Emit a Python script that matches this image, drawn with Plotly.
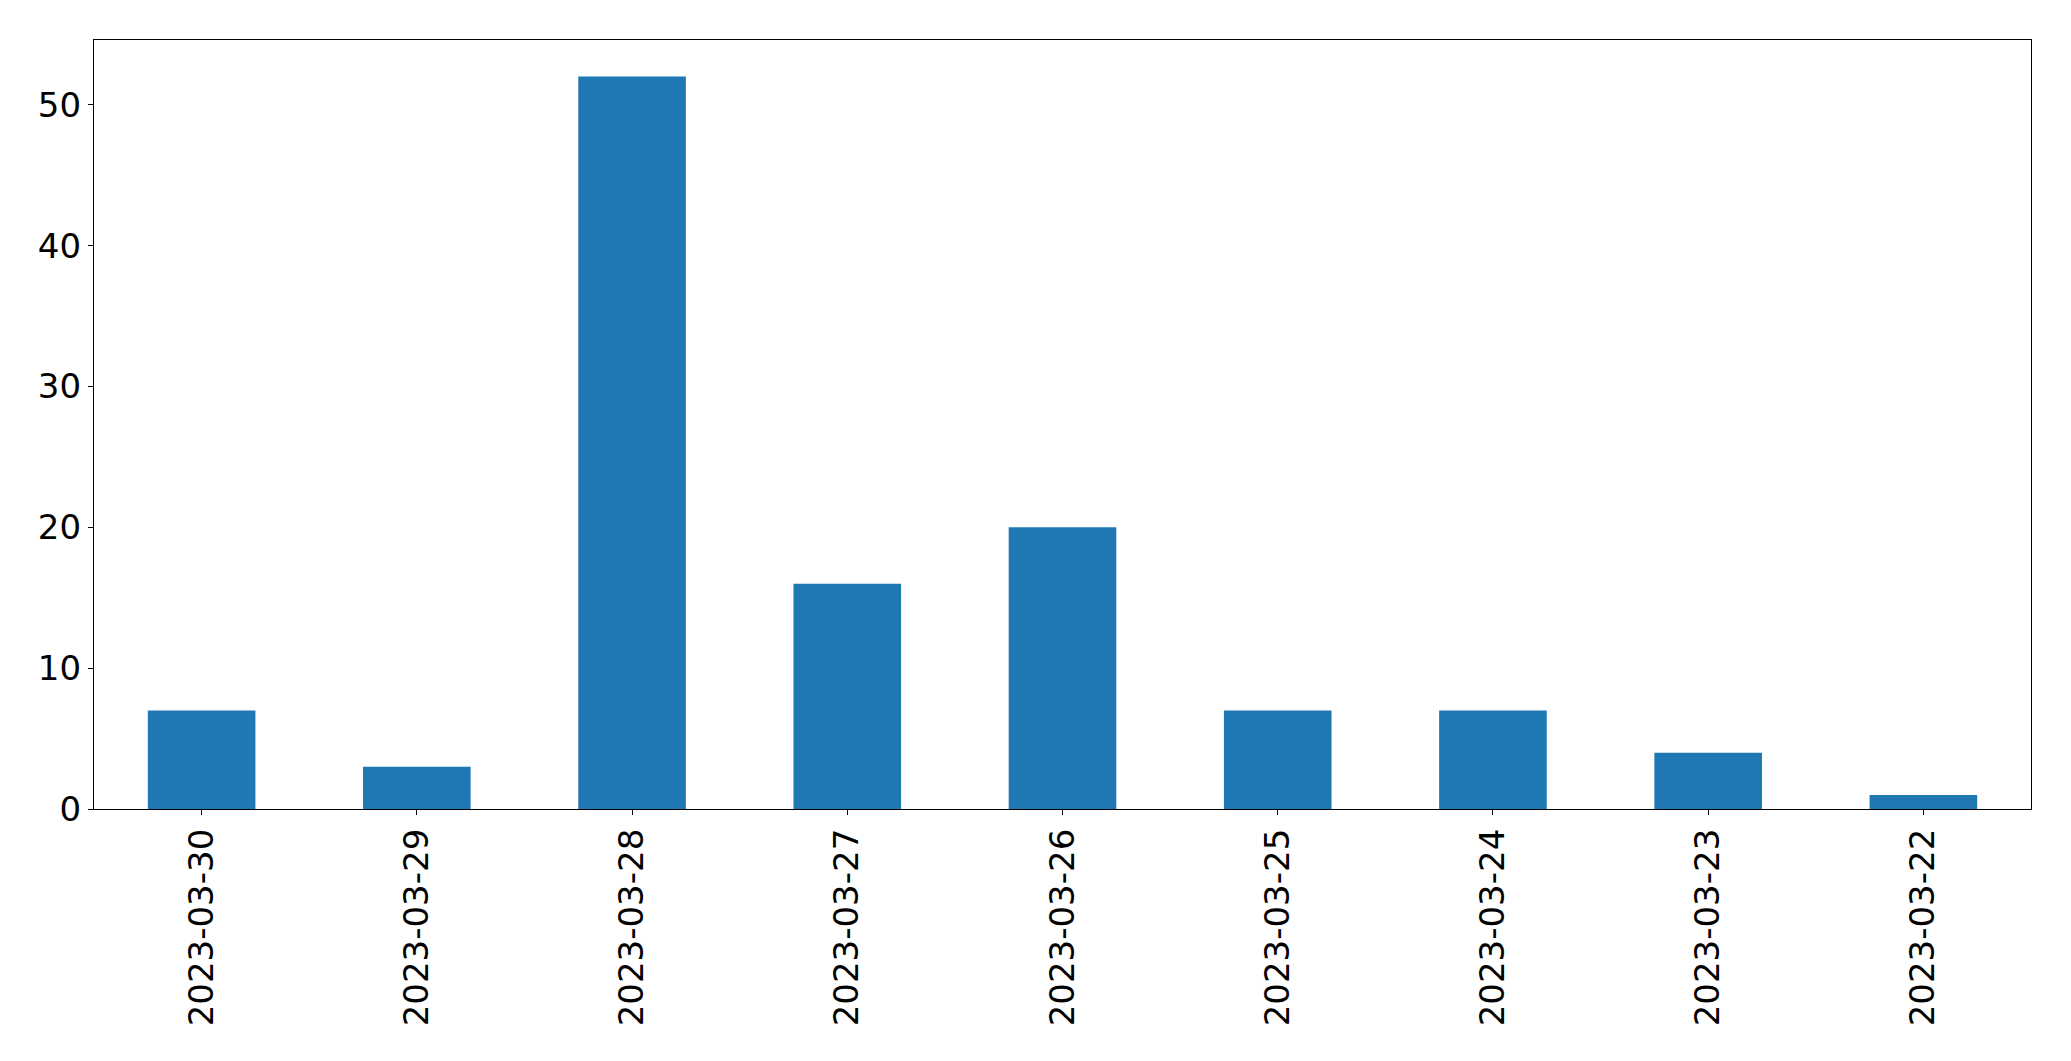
import plotly.graph_objects as go

dates = ["2023-03-30", "2023-03-29", "2023-03-28", "2023-03-27", "2023-03-26",
         "2023-03-25", "2023-03-24", "2023-03-23", "2023-03-22"]
counts = [7, 3, 52, 16, 20, 7, 7, 4, 1]

fig = go.Figure(go.Bar(x=dates, y=counts, width=0.5, marker=dict(color="#1f77b4", line=dict(width=0))))

fig.update_layout(
    width=2071, height=1061,
    margin=dict(l=86, r=48, t=32, b=260),
    paper_bgcolor="white", plot_bgcolor="white",
    font=dict(family="DejaVu Sans", size=34, color="black"),
    showlegend=False,
)
fig.update_xaxes(
    type="category", range=[-0.5, 8.5], tickangle=-90,
    showline=True, linecolor="black", linewidth=1.3, mirror=True,
    ticks="outside", ticklen=5, tickcolor="black", showgrid=False, zeroline=False,
    ticklabelstandoff=0,
)
fig.update_yaxes(
    range=[0, 54.6], tickvals=[0, 10, 20, 30, 40, 50],
    showline=True, linecolor="black", linewidth=1.3, mirror=True,
    ticks="outside", ticklen=5, tickcolor="black", showgrid=False, zeroline=False,
    ticklabelstandoff=0,
)
fig.write_html("out.html")
